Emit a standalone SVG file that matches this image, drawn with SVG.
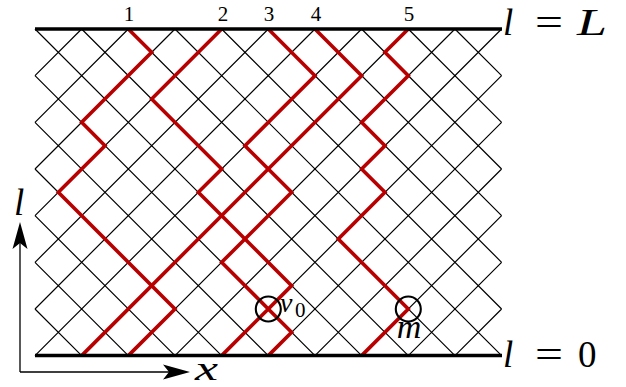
<svg xmlns="http://www.w3.org/2000/svg" width="626" height="387" viewBox="0 0 626 387">
<style>
.grid{fill:none;stroke:#000;stroke-width:1.2;vector-effect:non-scaling-stroke}
.red{fill:none;stroke:#b80000;stroke-width:3.6;stroke-linejoin:miter;vector-effect:non-scaling-stroke}
.bound{stroke:#000;stroke-width:3.4}
.ring{fill:none;stroke:#000;stroke-width:2.1}
.ax{stroke:#000;stroke-width:1.3;fill:none}
.tip{fill:#000}
text{fill:#000}
</style>
<rect width="626" height="387" fill="#fff"/>
<g id="lattice" transform="matrix(23.33,0,0,23.33,35,29)">
<path class="grid" d="M0,12L2,14M0,10L4,14M0,8L6,14M0,6L8,14M0,4L10,14M0,2L12,14M0,0L14,14M2,0L16,14M4,0L18,14M6,0L20,14M8,0L20,12M10,0L20,10M12,0L20,8M14,0L20,6M16,0L20,4M18,0L20,2M2,0L0,2M4,0L0,4M6,0L0,6M8,0L0,8M10,0L0,10M12,0L0,12M14,0L0,14M16,0L2,14M18,0L4,14M20,0L6,14M20,2L8,14M20,4L10,14M20,6L12,14M20,8L14,14M20,10L16,14M20,12L18,14"/>
<g id="connectors">
<path id="path1" class="red" d="M4,0L5,1L2,4L3,5L1,7L6,12L4,14"/>
<path id="path2" class="red" d="M8,0L5,3L8,6L7,7L11,11L10,12L11,13L10,14"/>
<path id="path3" class="red" d="M10,0L12,2L9,5L11,7L8,10L10,12L8,14"/>
<path id="path4" class="red" d="M12,0L14,2L2,14"/>
<path id="path5" class="red" d="M16,0L15,1L16,2L14,4L15,5L14,6L15,7L13,9L16,12L14,14"/>
</g>
</g>
<g id="boundaries">
<line class="bound" x1="35" y1="29" x2="502" y2="29"/>
<line class="bound" x1="35" y1="355.5" x2="502" y2="355.5"/>
</g>
<g font-family="Liberation Serif, serif">
<g id="node-v0">
<circle class="ring" cx="268.3" cy="309" r="12.5"/>
<text x="280" y="312" font-size="28" font-style="italic">v</text>
<text x="295" y="317" font-size="21">0</text>
</g>
<g id="node-m">
<circle class="ring" cx="408.3" cy="309" r="12.5"/>
<text x="409" y="338" font-size="34" font-style="italic" text-anchor="middle">m</text>
</g>
<g id="top-labels" font-size="21" text-anchor="middle">
<text x="129" y="21">1</text>
<text x="223" y="21">2</text>
<text x="269" y="21">3</text>
<text x="316" y="21">4</text>
<text x="409" y="21">5</text>
</g>
<g id="label-L" font-size="37">
<text x="503" y="35" font-style="italic">l</text>
<text x="535" y="35" textLength="28" lengthAdjust="spacingAndGlyphs">=</text>
<text x="577" y="35" font-style="italic" textLength="30" lengthAdjust="spacingAndGlyphs">L</text>
</g>
<g id="label-0" font-size="37">
<text x="503" y="367" font-style="italic">l</text>
<text x="535" y="367" textLength="28" lengthAdjust="spacingAndGlyphs">=</text>
<text x="578" y="367">0</text>
</g>
<g id="axes">
<path class="ax" d="M20,372V243M20,372H169"/>
<path class="tip" d="M20,222L27.5,249L20,243L12.5,249Z"/>
<path class="tip" d="M190,372L163,364.5L169,372L163,379.5Z"/>
<text x="14" y="215" font-size="37" font-style="italic">l</text>
<text x="195" y="379.5" font-size="34" font-style="italic" textLength="23" lengthAdjust="spacingAndGlyphs">x</text>
</g>
</g>
</svg>
